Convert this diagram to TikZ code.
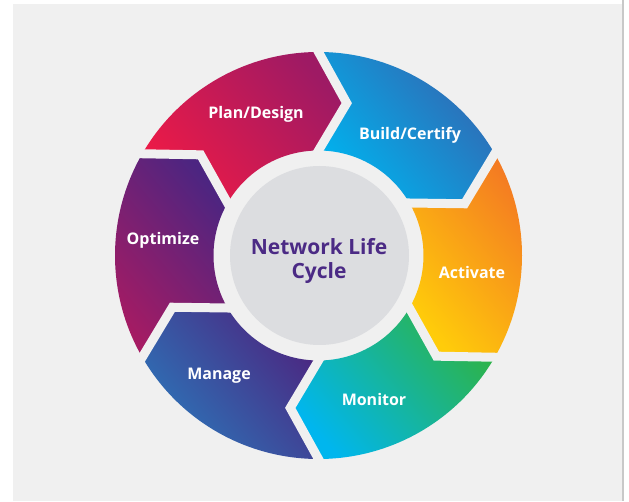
\documentclass[tikz,border=0pt]{standalone}
\usepackage{fontspec}
\setmainfont{Open Sans}
\usetikzlibrary{calc}
\definecolor{bg}{HTML}{F0F0F0}
\definecolor{edge}{HTML}{C8C8C8}
\definecolor{disk}{HTML}{DCDDE0}
\definecolor{ttl}{HTML}{4B2A85}
\definecolor{planA}{HTML}{EC1A47}
\definecolor{planB}{HTML}{9E1A64}
\definecolor{buildA}{HTML}{00B2EE}
\definecolor{buildB}{HTML}{3268B2}
\definecolor{actA}{HTML}{FFCC0A}
\definecolor{actB}{HTML}{F47B22}
\definecolor{monA}{HTML}{00B6EE}
\definecolor{monB}{HTML}{2DB34A}
\definecolor{manA}{HTML}{2C75B9}
\definecolor{manB}{HTML}{4B2781}
\definecolor{optA}{HTML}{A61B63}
\definecolor{optB}{HTML}{4C2581}
\tikzset{
  seglabel/.style={text=white, font=\bfseries\fontsize{16}{18}\selectfont, inner sep=0pt},
  ttllabel/.style={text=ttl, font=\bfseries\fontsize{21}{24}\selectfont, align=center, inner sep=0pt},
  gapline/.style={draw=bg, line width=9pt, line join=miter, miter limit=10}
}
\begin{document}
\begin{tikzpicture}[x=1pt,y=1pt]
\useasboundingbox (0,0) rectangle (629,501);
\fill[white] (0,0) rectangle (629,501);
\fill[bg] (13,0) rectangle (622,497);
\fill[edge] (622,0) rectangle (624,501);
\begin{scope}[shift={(318.5,245.5)}]
  \foreach \a/\cA/\cB in {150/planA/planB, 90/buildA/buildB, 30/actA/actB, -30/monA/monB, -90/manA/manB, -150/optA/optB} {
    \pgfmathsetmacro\b{\a-60}
    \pgfmathsetmacro\tb{\b-10.5}
    \pgfmathsetmacro\ta{\a-10.5}
    \shade[bottom color=\cA, top color=\cB, shading angle=-50]
      (\a:203.5) arc[start angle=\a, end angle=\b, radius=203.5]
      -- (\tb:155) -- (\b:105)
      arc[start angle=\b, end angle=\a, radius=105]
      -- (\ta:155) -- cycle;
  }
  \foreach \a in {150,90,30,-30,-90,-150} {
    \pgfmathsetmacro\ta{\a-10.5}
    \coordinate (o) at (\a:203.5);
    \coordinate (t) at (\ta:155);
    \coordinate (i) at (\a:105);
    \draw[gapline] ($(t)!1.3!(o)$) -- (t) -- ($(t)!1.2!(i)$);
  }
  \fill[disk] (1,0) circle[radius=89.5];
\end{scope}
\node[seglabel] (plan) at (256,387) {Plan/Design};
\node[seglabel] (build) at (410,366) {Build/Certify};
\node[seglabel] (act) at (472,228) {Activate};
\node[seglabel] (mon) at (374,102) {Monitor};
\node[seglabel] (man) at (219,125) {Manage};
\node[seglabel] (opt) at (163,261) {Optimize};
\node[ttllabel] (nlc) at (319,240) {Network Life\\Cycle};
\end{tikzpicture}
\end{document}
